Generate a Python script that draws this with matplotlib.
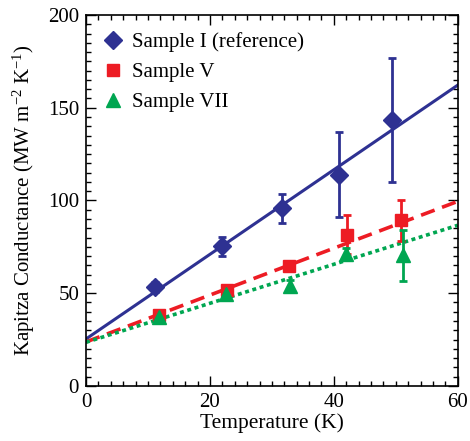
import matplotlib
matplotlib.use("Agg")
import matplotlib.pyplot as plt
from matplotlib.ticker import MultipleLocator

# Data
temp_I = [11.1, 21.9, 31.7, 40.9, 49.4]
cond_I = [53.3, 75.3, 95.7, 113.8, 143.4]
err_I = [2.5, 5.0, 8.0, 23.0, 33.5]

temp_V = [11.7, 22.7, 32.7, 42.2, 50.9]
cond_V = [38.0, 51.8, 64.7, 81.5, 89.2]
err_V = [1.5, 2.0, 1.5, 10.5, 11.0]

temp_VII = [11.7, 22.6, 32.9, 42.0, 51.2]
cond_VII = [37.3, 49.5, 54.1, 71.3, 70.4]
err_VII = [1.5, 2.0, 3.0, 3.0, 13.7]

# linear fits (endpoints at T = 0 and 60 K)
fit_T = [0, 60]
fit_I = [25.3, 162.2]
fit_V = [23.7, 99.5]
fit_VII = [23.5, 86.6]

blue = "#2e3192"
red = "#ed1c24"
green = "#00a651"

plt.rcParams["font.family"] = "Liberation Serif"
plt.rcParams["mathtext.fontset"] = "custom"
plt.rcParams["mathtext.rm"] = "Liberation Serif"
plt.rcParams["mathtext.it"] = "Liberation Serif:italic"

fig = plt.figure(figsize=(4.70, 4.41), dpi=100)
ax = fig.add_axes([0.183, 0.125, 0.791, 0.841])

ax.plot(fit_T, fit_I, color=blue, lw=2.2)
ax.plot(fit_T, fit_V, color=red, lw=2.6, dashes=(4, 2.2))
ax.plot(fit_T, fit_VII, color=green, lw=2.6, dashes=(1.1, 1.0))

eb1 = ax.errorbar(temp_I, cond_I, yerr=err_I, fmt="D", color=blue, ms=9,
                  elinewidth=2, capsize=3, capthick=2)
eb2 = ax.errorbar(temp_V, cond_V, yerr=err_V, fmt="s", color=red, ms=8,
                  elinewidth=2, capsize=3, capthick=2)
eb3 = ax.errorbar(temp_VII, cond_VII, yerr=err_VII, fmt="^", color=green, ms=10,
                  elinewidth=2, capsize=3, capthick=2)

ax.set_xlim(0, 60)
ax.set_ylim(0, 200)
ax.xaxis.set_major_locator(MultipleLocator(20))
ax.xaxis.set_minor_locator(MultipleLocator(2))
ax.yaxis.set_major_locator(MultipleLocator(50))
ax.yaxis.set_minor_locator(MultipleLocator(5))
ax.tick_params(which="both", direction="in", top=True, right=True, width=1)
ax.tick_params(which="major", length=7, labelsize=15, pad=5)
ax.tick_params(which="minor", length=3.5)
for s in ax.spines.values():
    s.set_linewidth(1.2)

ax.set_xlabel("Temperature (K)", fontsize=15.5, labelpad=1)
ax.set_ylabel("Kapitza Conductance (MW m$^{-2}$ K$^{-1}$)", fontsize=15, labelpad=8)

# legend shows only the markers, no error bars
ax.legend([eb1[0], eb2[0], eb3[0]],
          ["Sample I (reference)", "Sample V", "Sample VII"],
          loc="upper left", frameon=False, fontsize=15, handletextpad=0.3,
          borderaxespad=0.3, labelspacing=0.5, handlelength=1.2,
          bbox_to_anchor=(0.0, 0.992))

fig.savefig("out.png", dpi=100)
